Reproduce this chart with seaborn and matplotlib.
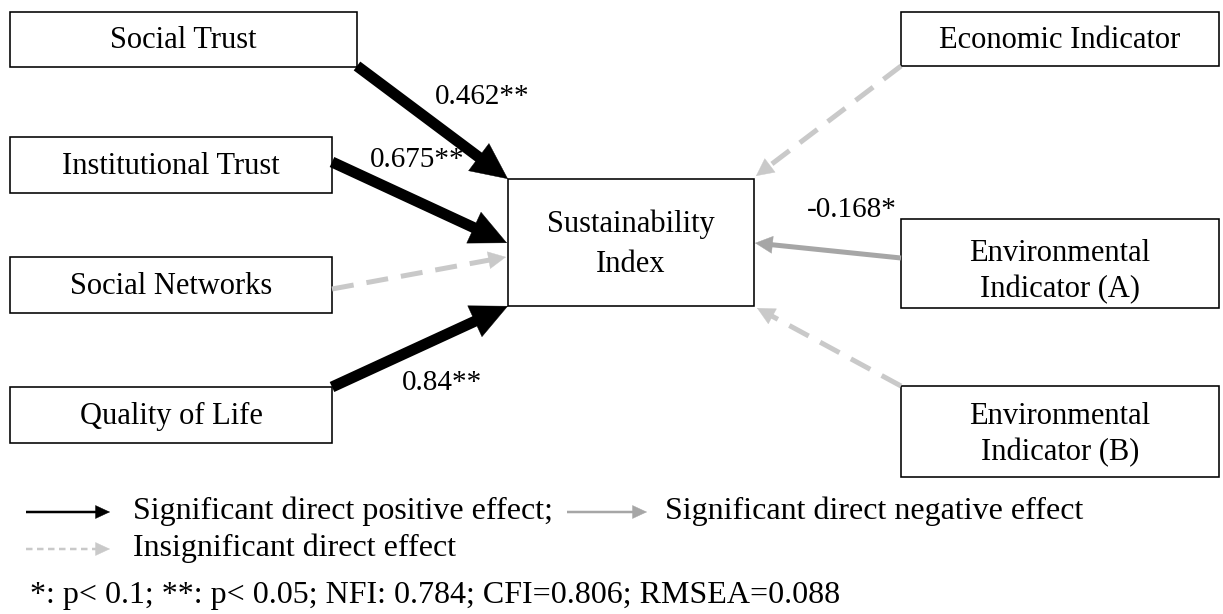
import numpy as np
import matplotlib
matplotlib.use("Agg")
import matplotlib.pyplot as plt
import seaborn as sns
from matplotlib.patches import Rectangle, FancyArrowPatch, ArrowStyle

# ---------------- data ----------------
left_nodes = ["Social Trust", "Institutional Trust", "Social Networks", "Quality of Life"]
left_coefs = ["0.462**", "0.675**", "", "0.84**"]
left_effects = ["pos", "pos", "ns", "pos"]

right_nodes = ["Economic Indicator", "Environmental\nIndicator (A)", "Environmental\nIndicator (B)"]
right_coefs = ["", "-0.168*", ""]
right_effects = ["ns", "neg", "ns"]

outcome = "Sustainability\nIndex"

legend_labels = ["Significant direct positive effect;", "Significant direct negative effect",
                 "Insignificant direct effect"]
fit_note = "*: p< 0.1; **: p< 0.05; NFI: 0.784; CFI=0.806; RMSEA=0.088"

# ---------------- layout (canvas pixels) ----------------
W, H = 1223, 614
boxes = {
    "Social Trust": (10, 12, 357, 67),
    "Institutional Trust": (10, 137, 332, 193),
    "Social Networks": (10, 257, 332, 313),
    "Quality of Life": (10, 387, 332, 443),
    outcome: (508, 179, 754, 306),
    "Economic Indicator": (901, 12, 1219, 66),
    "Environmental\nIndicator (A)": (901, 219, 1219, 308),
    "Environmental\nIndicator (B)": (901, 386, 1219, 477),
}
text_dy = {outcome: 2, "Environmental\nIndicator (A)": 8, "Environmental\nIndicator (B)": 3}
text_ls = {outcome: 1.5, "Environmental\nIndicator (A)": 1.32, "Environmental\nIndicator (B)": 1.32}
edge_start = {
    "Social Trust": (357, 66), "Institutional Trust": (332, 162),
    "Social Networks": (332, 289), "Quality of Life": (332, 387),
    "Economic Indicator": (901, 66), "Environmental\nIndicator (A)": (901, 258),
    "Environmental\nIndicator (B)": (901, 386),
}
edge_end = {
    "Social Trust": (508, 179), "Institutional Trust": (507, 243),
    "Social Networks": (506, 257), "Quality of Life": (508, 306),
    "Economic Indicator": (756, 176), "Environmental\nIndicator (A)": (755, 243),
    "Environmental\nIndicator (B)": (757, 308),
}
coef_pos = {
    "Social Trust": (482, 97), "Institutional Trust": (417, 160),
    "Quality of Life": (442, 383), "Environmental\nIndicator (A)": (852, 210),
}

styles = {
    "pos": dict(color="black", lw=11, hl=36, hw=34, dashed=False),
    "neg": dict(color="#a6a6a6", lw=5, hl=17, hw=17, dashed=False),
    "ns": dict(color="#c9c9c9", lw=5, hl=17, hw=17, dashed=True),
}

PT = 0.72  # px -> points at dpi 100

sns.set_theme(style="white")
plt.rcParams['font.family'] = ['Liberation Serif', 'DejaVu Serif']
plt.rcParams['text.color'] = 'black'

fig = plt.figure(figsize=(W / 100, H / 100), dpi=100)
ax = fig.add_axes([0, 0, 1, 1])
ax.set_xlim(0, W)
ax.set_ylim(H, 0)
ax.axis("off")

BOX_FS = 22
COEF_FS = 21


def draw_arrow(p0, p1, st, dash_pattern=(4.4, 2.6), zorder=3):
    p0 = np.asarray(p0, float)
    p1 = np.asarray(p1, float)
    d = (p1 - p0) / np.linalg.norm(p1 - p0)
    base = p1 - d * st["hl"]
    line_end = p1 - d * st["hl"] * 0.7
    ls = (0, dash_pattern) if st["dashed"] else "-"
    ax.plot([p0[0], line_end[0]], [p0[1], line_end[1]], color=st["color"],
            lw=st["lw"] * PT, linestyle=ls, solid_capstyle="butt",
            dash_capstyle="butt", zorder=zorder)
    head = FancyArrowPatch(posA=tuple(base), posB=tuple(p1),
                           arrowstyle=ArrowStyle("-|>", head_length=st["hl"] * PT,
                                                 head_width=st["hw"] * PT / 2),
                           mutation_scale=1, shrinkA=0, shrinkB=0,
                           color=st["color"], lw=0.3, zorder=zorder)
    ax.add_patch(head)


# boxes
for name, (x0, y0, x1, y1) in boxes.items():
    ax.add_patch(Rectangle((x0, y0), x1 - x0, y1 - y0, fill=True, facecolor="white",
                           edgecolor="black", lw=1.6 * PT, zorder=2))
    ax.text((x0 + x1) / 2, (y0 + y1) / 2 + text_dy.get(name, 1), name,
            ha="center", va="center", fontsize=BOX_FS,
            linespacing=text_ls.get(name, 1.4), color="black", zorder=4)

# edges
for name, coef, eff in zip(left_nodes + right_nodes, left_coefs + right_coefs,
                           left_effects + right_effects):
    draw_arrow(edge_start[name], edge_end[name], styles[eff])
    if coef:
        x, y = coef_pos[name]
        ax.text(x, y, coef, ha="center", va="center", fontsize=COEF_FS,
                color="black", zorder=5)

# legend
LEG_FS = 23
leg_pos = dict(color="black", lw=2.5, hl=14, hw=13, dashed=False)
leg_neg = dict(color="#a6a6a6", lw=2.5, hl=14, hw=13, dashed=False)
leg_ns = dict(color="#c9c9c9", lw=2.5, hl=14, hw=13, dashed=True)
draw_arrow((26, 512), (110, 512), leg_pos)
ax.text(133, 511, legend_labels[0], ha="left", va="center", fontsize=LEG_FS, color="black")
draw_arrow((567, 512), (647, 512), leg_neg)
ax.text(665, 511, legend_labels[1], ha="left", va="center", fontsize=LEG_FS, color="black")
draw_arrow((26, 549), (110, 549), leg_ns, dash_pattern=(2.6, 1.8))
ax.text(133, 548, legend_labels[2], ha="left", va="center", fontsize=LEG_FS, color="black")
ax.text(30, 595, fit_note, ha="left", va="center", fontsize=LEG_FS, color="black")

fig.savefig("out.png", dpi=100)
